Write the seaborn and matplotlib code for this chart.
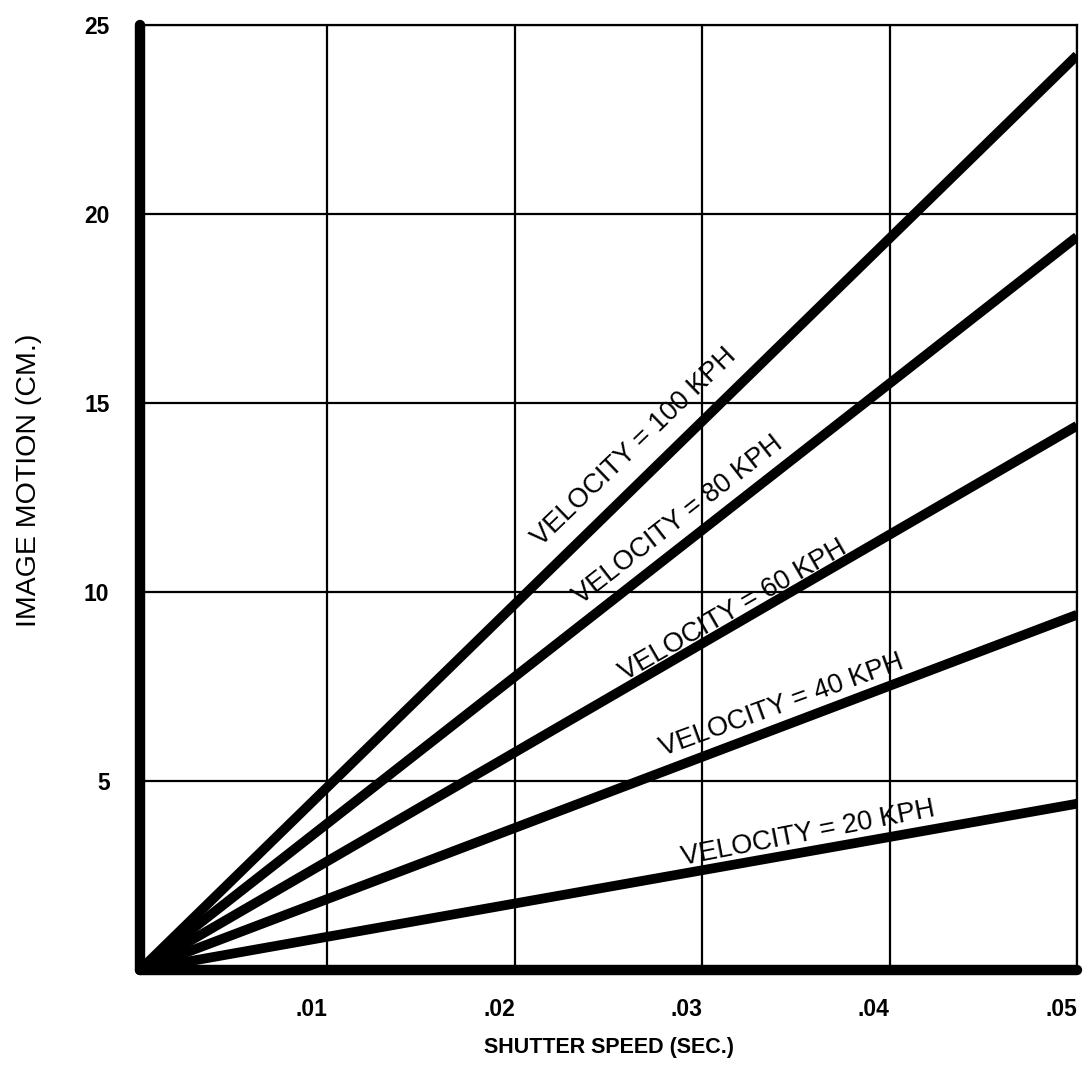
import seaborn as sns
import pandas as pd
import matplotlib.pyplot as plt

shutter = [0.0, 0.05]
v100 = [0.0, 24.2]
v80 = [0.0, 19.4]
v60 = [0.0, 14.4]
v40 = [0.0, 9.4]
v20 = [0.0, 4.4]
velocities = ["100", "80", "60", "40", "20"]
xticks = [0.01, 0.02, 0.03, 0.04, 0.05]
xticklabels = [".01", ".02", ".03", ".04", ".05"]
yticks = [5, 10, 15, 20, 25]

rows = []
for v, ys in zip(velocities, [v100, v80, v60, v40, v20]):
    for x, y in zip(shutter, ys):
        rows.append({"shutter": x, "motion": y, "velocity": v})
df = pd.DataFrame(rows)

sns.set_style("white")
plt.rcParams['font.family'] = ['Liberation Sans', 'DejaVu Sans']
plt.rcParams['text.color'] = 'black'
plt.rcParams['axes.labelcolor'] = 'black'
plt.rcParams['xtick.color'] = 'black'
plt.rcParams['ytick.color'] = 'black'

fig = plt.figure(figsize=(10.88, 10.92), dpi=100)
ax = fig.add_axes([0.1287, 0.1117, 0.8612, 0.8653])

sns.lineplot(data=df, x="shutter", y="motion", hue="velocity",
             palette=["black"] * 5, linewidth=7, legend=False, ax=ax,
             solid_capstyle="butt")

ax.set_xlim(0, 0.05)
ax.set_ylim(0, 25)
ax.set_xticks(xticks)
ax.set_xticklabels(xticklabels, fontsize=16.5, fontweight="bold", ha="right")
ax.set_yticks(yticks)
ax.set_yticklabels([str(t) for t in yticks], fontsize=16.5, fontweight="bold")
ax.tick_params(length=0)
ax.tick_params(axis="x", pad=20)
ax.tick_params(axis="y", pad=22)
ax.grid(True, color="black", linewidth=1.6)

for side in ["top", "right"]:
    ax.spines[side].set_linewidth(1.6)
    ax.spines[side].set_color("black")
for side in ["left", "bottom"]:
    ax.spines[side].set_linewidth(7.5)
    ax.spines[side].set_color("black")
    ax.spines[side].set_capstyle("round")

ax.set_xlabel("SHUTTER SPEED (SEC.)", fontsize=15.5, fontweight="bold", labelpad=12)
ax.set_ylabel("IMAGE MOTION (CM.)", fontsize=20.5)
ax.yaxis.set_label_coords(-0.105, 0.518)

# labels along the lines
labels = [
    (0.02636, 13.84, "VELOCITY = 100 KPH", 44),
    (0.0287, 11.9, "VELOCITY = 80 KPH", 38),
    (0.03164, 9.5, "VELOCITY = 60 KPH", 30),
    (0.03424, 7.0, "VELOCITY = 40 KPH", 20),
    (0.03565, 3.62, "VELOCITY = 20 KPH", 11),
]
for x, y, txt, rot in labels:
    ax.text(x, y, txt, rotation=rot, fontsize=19.5, ha="center", va="center",
            rotation_mode="anchor")

fig.savefig("out.png", dpi=100)
